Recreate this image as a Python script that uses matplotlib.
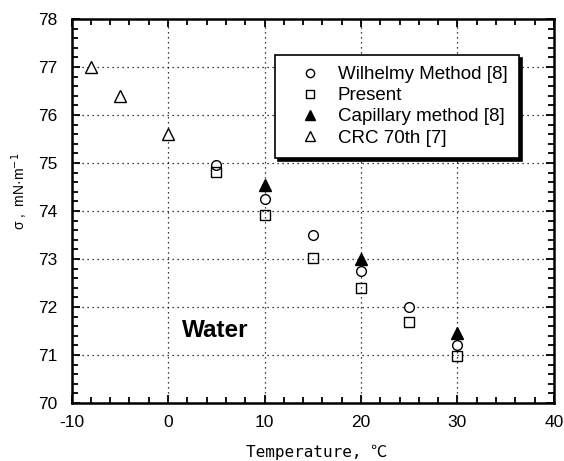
import matplotlib
matplotlib.use("Agg")
import matplotlib.pyplot as plt
from matplotlib.ticker import MultipleLocator

plt.rcParams['font.family'] = ['Liberation Sans', 'DejaVu Sans']
plt.rcParams['axes.unicode_minus'] = False

# Data
wil_T = [5, 10, 15, 20, 25, 30]
wil_s = [74.96, 74.24, 73.50, 72.75, 72.00, 71.20]
pre_T = [5, 10, 15, 20, 25, 30]
pre_s = [74.82, 73.92, 73.02, 72.39, 71.68, 70.98]
cap_T = [10, 20, 30]
cap_s = [74.55, 73.00, 71.46]
crc_T = [-8, -5, 0]
crc_s = [77.0, 76.4, 75.6]

labels = ["Wilhelmy Method [8]", "Present", "Capillary method [8]", "CRC 70th [7]"]

fig = plt.figure(figsize=(5.64, 4.61), dpi=100)
ax = fig.add_axes([0.127, 0.126, 0.855, 0.833])

ax.plot(wil_T, wil_s, 'o', ms=7, mfc='white', mec='black', mew=1.0, label=labels[0], zorder=3)
ax.plot(pre_T, pre_s, 's', ms=7.5, mfc='none', mec='black', mew=1.0, label=labels[1], zorder=3)
ax.plot(cap_T, cap_s, '^', ms=8.5, mfc='black', mec='black', mew=1.0, label=labels[2], zorder=3)
ax.plot(crc_T, crc_s, '^', ms=8.5, mfc='white', mec='black', mew=1.0, label=labels[3], zorder=3)

ax.set_xlim(-10, 40)
ax.set_ylim(70, 78)
ax.xaxis.set_major_locator(MultipleLocator(10))
ax.xaxis.set_minor_locator(MultipleLocator(2))
ax.yaxis.set_major_locator(MultipleLocator(1))
ax.yaxis.set_minor_locator(MultipleLocator(0.2))

ax.grid(True, which='major', color='black', linestyle=(0, (1, 3)), linewidth=0.9)
ax.tick_params(which='both', direction='in', top=True, right=True, width=1.3, labelsize=12.5)
ax.tick_params(which='major', length=6)
ax.tick_params(which='minor', length=4)
ax.tick_params(axis='x', pad=9)
ax.tick_params(axis='y', pad=10)
for sp in ax.spines.values():
    sp.set_linewidth(1.8)

ax.set_xlabel("Temperature, ℃", family=['DejaVu Sans Mono', 'Noto Sans CJK SC'],
              fontsize=11.5, va='center')
ax.xaxis.set_label_coords(0.507, -0.13)
ax.set_ylabel("σ ,  mN·m$^{-1}$", fontsize=10)
ax.yaxis.set_label_coords(-0.086, 0.55)

ax.text(1.4, 71.5, "Water", fontsize=17.5, fontweight='bold', va='center', ha='left')

leg = ax.legend(loc='upper left', bbox_to_anchor=(0.4215, 0.906), borderaxespad=0,
                fancybox=False, edgecolor='black', framealpha=1, fontsize=13.5,
                shadow={'color': 'black', 'alpha': 1}, handletextpad=0.26,
                borderpad=0.6, labelspacing=0.21, handlelength=2.5, markerscale=0.85)
leg.get_frame().set_linewidth(1.2)

fig.savefig("out.png", dpi=100)
